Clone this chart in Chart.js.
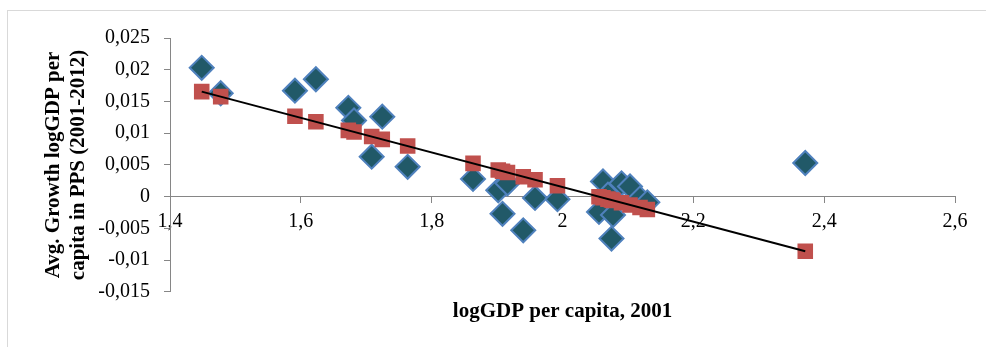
<!DOCTYPE html>
<html>
<head>
<meta charset="utf-8">
<script src="https://cdn.jsdelivr.net/npm/chart.js@4.4.1/dist/chart.umd.min.js"></script>
<style>
  html, body { margin: 0; padding: 0; background: #ffffff; }
  #wrap { width: 986px; height: 347px; }
</style>
</head>
<body>
<div id="wrap"><canvas id="c" width="986" height="347"></canvas></div>
<script>
// Observed log GDP per capita in 2001 and average growth 2001-2012
const logGdp2001 = [
  1.4485, 1.4775, 1.591, 1.623, 1.6726, 1.6813, 1.7245, 1.7083, 1.7633,
  1.8632, 1.9018, 1.9159, 1.9083, 1.940, 1.958, 1.9923,
  2.0558, 2.0619, 2.0695, 2.0749, 2.0772, 2.0902, 2.1032, 2.1185, 2.1297,
  2.3711
];
const avgGrowth = [
  0.0203, 0.0163, 0.0167, 0.0185, 0.0140, 0.0120, 0.0126, 0.0063, 0.0047,
  0.0028, 0.0010, 0.0021, -0.0027, -0.0053, -0.0002, -0.0004,
  -0.0024, 0.0024, 0.0003, -0.0066, -0.0029, 0.0021, 0.0016, -0.0003, -0.0009,
  0.0053
];
// Predicted growth from the regression
const fittedGrowth = [
  0.01655, 0.01576, 0.01267, 0.01179, 0.01044, 0.01020, 0.00903, 0.00947, 0.00797,
  0.00524, 0.00419, 0.00380, 0.00401, 0.00315, 0.00266, 0.00172,
  -0.00001, -0.00018, -0.00039, -0.00053, -0.00060, -0.00095, -0.00130, -0.00172, -0.00203,
  -0.00861
];
// Ends of the regression line
const trendX = [1.4485, 2.3711];
const trendY = [0.01655, -0.00861];

const xTickLabels = ['1,4', '1,6', '1,8', '2', '2,2', '2,4', '2,6'];
const yTickLabels = ['-0,015', '-0,01', '-0,005', '0', '0,005', '0,01', '0,015', '0,02', '0,025'];

const toPoints = (xs, ys) => xs.map((x, i) => ({ x: x, y: ys[i] }));

const serif = 'Liberation Serif, Times New Roman, serif';
const axisGray = '#868686';

// Light frame around the whole chart
const framePlugin = {
  id: 'frame',
  beforeDraw(chart) {
    const ctx = chart.ctx;
    ctx.save();
    ctx.fillStyle = '#ffffff';
    ctx.fillRect(0, 0, chart.width, chart.height);
    ctx.strokeStyle = '#d9d9d9';
    ctx.lineWidth = 1;
    ctx.strokeRect(7.5, 10.5, 2000, 2000);
    ctx.restore();
  }
};

new Chart(document.getElementById('c'), {
  type: 'scatter',
  data: {
    datasets: [
      {
        label: 'Linear trend',
        data: toPoints(trendX, trendY),
        showLine: true,
        borderColor: '#000000',
        borderWidth: 2,
        pointRadius: 0,
        fill: false
      },
      {
        label: 'Predicted',
        data: toPoints(logGdp2001, fittedGrowth),
        pointStyle: 'rect',
        pointRadius: 11,
        pointBackgroundColor: '#c0504d',
        pointBorderWidth: 0,
        showLine: false
      },
      {
        label: 'Observed',
        data: toPoints(logGdp2001, avgGrowth),
        pointStyle: 'rectRot',
        pointRadius: 12,
        pointBackgroundColor: '#215968',
        pointBorderColor: '#4f81bd',
        pointBorderWidth: 2,
        showLine: false
      }
    ]
  },
  options: {
    responsive: false,
    animation: false,
    devicePixelRatio: 1,
    layout: { padding: { left: 0, top: 38, right: 31, bottom: 11 } },
    plugins: {
      legend: { display: false },
      tooltip: { enabled: false },
      title: {
        display: true,
        position: 'bottom',
        fullSize: false,
        text: 'logGDP per capita, 2001',
        color: '#000000',
        font: { family: serif, size: 21, weight: 'bold', lineHeight: 1.15 },
        padding: { top: 8, bottom: 12 }
      }
    },
    scales: {
      x: {
        type: 'linear',
        position: { y: 0 },
        min: 1.4,
        max: 2.6,
        ticks: {
          stepSize: 0.2,
          padding: 7,
          color: '#000000',
          font: { family: serif, size: 20 },
          maxRotation: 0,
          callback: (v, i) => xTickLabels[i]
        },
        grid: { drawOnChartArea: false, drawTicks: true, tickLength: 6, color: axisGray },
        border: { display: true, color: axisGray, width: 1 }
      },
      y: {
        type: 'linear',
        position: 'left',
        min: -0.015,
        max: 0.025,
        ticks: {
          stepSize: 0.005,
          padding: 14,
          color: '#000000',
          font: { family: serif, size: 20 },
          callback: (v, i) => yTickLabels[i]
        },
        grid: { drawOnChartArea: false, drawTicks: true, tickLength: 6, color: axisGray },
        border: { display: true, color: axisGray, width: 1 },
        title: {
          display: true,
          text: ['Avg. Growth logGDP per', 'capita in PPS (2001-2012)'],
          color: '#000000',
          font: { family: serif, size: 21, weight: 'bold', lineHeight: 1.15 },
          padding: { top: 42, bottom: 0 }
        },
        afterFit(scale) { scale.width = 170; }
      }
    }
  },
  plugins: [framePlugin]
});
</script>
</body>
</html>
